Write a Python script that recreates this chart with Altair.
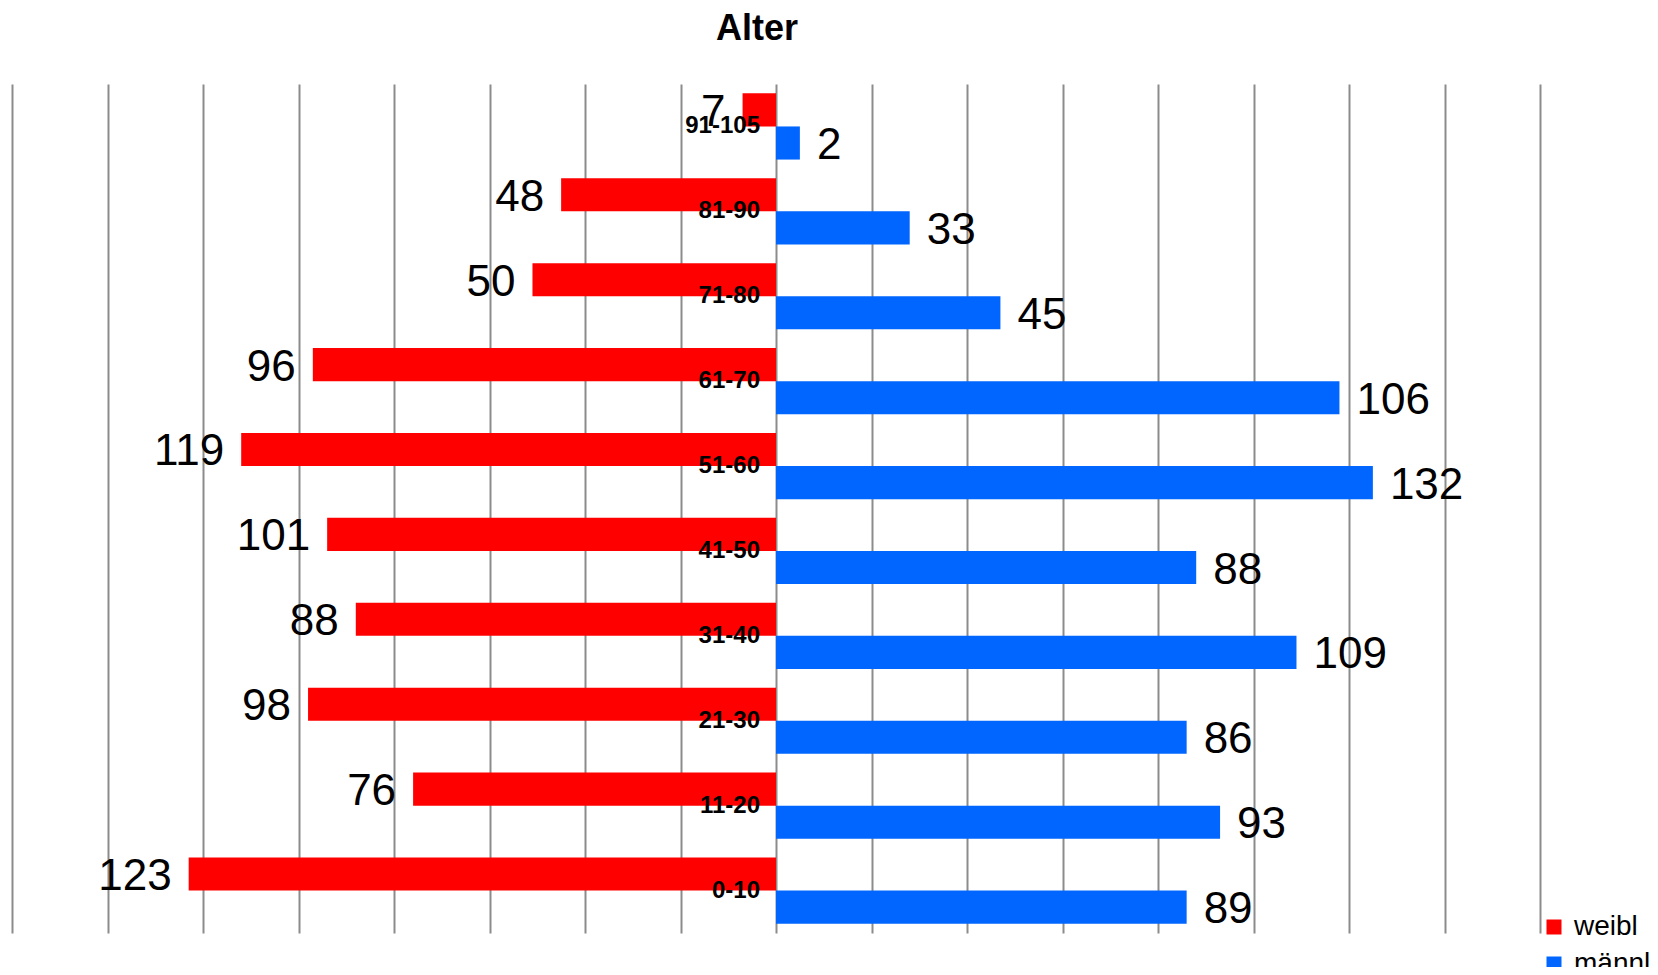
import altair as alt
import pandas as pd

# Age groups, top to bottom
groups = ["91-105", "81-90", "71-80", "61-70", "51-60", "41-50", "31-40", "21-30", "11-20", "0-10"]

# Bar lengths as drawn
weibl_bar = [7, 45, 51, 97, 112, 94, 88, 98, 76, 123]
maennl_bar = [5, 28, 47, 118, 125, 88, 109, 86, 93, 86]

# Data labels as printed
weibl_label = ["7", "48", "50", "96", "119", "101", "88", "98", "76", "123"]
maennl_label = ["2", "33", "45", "106", "132", "88", "109", "86", "93", "89"]

series = ["weibl", "männl"]
colors = ["#FF0000", "#0066FF"]
grid_ticks = list(range(-160, 161, 20))

rows = []
for g, wb, wl in zip(groups, weibl_bar, weibl_label):
    rows.append({"group": g, "sex": "weibl", "value": -wb, "label": wl})
for g, mb, ml in zip(groups, maennl_bar, maennl_label):
    rows.append({"group": g, "sex": "männl", "value": mb, "label": ml})
df = pd.DataFrame(rows)
cats = pd.DataFrame({"group": groups, "value": [0] * len(groups)})

FONT = "Liberation Sans"

x_scale = alt.Scale(domain=[-160, 160], nice=False, zero=False)
y_scale = alt.Scale(domain=groups, paddingInner=0.22, paddingOuter=0.11)
yoff_scale = alt.Scale(domain=series, paddingInner=0, paddingOuter=0)

x_enc = alt.X(
    "value:Q",
    scale=x_scale,
    axis=alt.Axis(
        values=grid_ticks,
        grid=True,
        gridColor="#8c8c8c",
        gridWidth=2,
        labels=False,
        ticks=False,
        domain=False,
        title=None,
    ),
)
x_plain = alt.X("value:Q", scale=x_scale)
y_enc = alt.Y("group:N", scale=y_scale, axis=None)
yoff_enc = alt.YOffset("sex:N", scale=yoff_scale, sort=series)

base = alt.Chart(df)

bars = base.mark_bar(strokeWidth=0).encode(
    x=x_enc,
    y=y_enc,
    yOffset=yoff_enc,
    color=alt.Color(
        "sex:N",
        scale=alt.Scale(domain=series, range=colors),
        sort=series,
        legend=alt.Legend(
            title=None,
            orient="none",
            legendX=1528,
            legendY=829,
            symbolType="square",
            symbolSize=225,
            symbolStrokeWidth=0,
            labelFont=FONT,
            labelFontSize=28,
            labelColor="#000000",
            labelOffset=6,
            labelLimit=200,
            rowPadding=9,
            padding=0,
        ),
    ),
)

lab_w = (
    base.transform_filter(alt.datum.sex == "weibl")
    .mark_text(align="right", baseline="middle", dx=-17, dy=3, font=FONT, fontSize=44, color="#000000")
    .encode(x=x_plain, y=y_enc, yOffset=yoff_enc, text="label:N")
)
lab_m = (
    base.transform_filter(alt.datum.sex == "männl")
    .mark_text(align="left", baseline="middle", dx=17, dy=3, font=FONT, fontSize=44, color="#000000")
    .encode(x=x_plain, y=y_enc, yOffset=yoff_enc, text="label:N")
)

cat_labels = (
    alt.Chart(cats)
    .mark_text(align="right", baseline="middle", dx=-16, font=FONT, fontSize=24, fontWeight="bold", color="#000000")
    .encode(x=x_plain, y=y_enc, text="group:N")
)

chart = (
    alt.layer(bars, lab_w, lab_m, cat_labels)
    .resolve_scale(x="shared", y="shared")
    .properties(
        width=1528,
        height=849,
        view=alt.ViewBackground(strokeOpacity=0, strokeWidth=0),
        title=alt.TitleParams(
            "Alter",
            font=FONT,
            fontSize=36,
            fontWeight="bold",
            color="#000000",
            anchor="middle",
            frame="group",
            offset=36,
            dx=-19,
        ),
        autosize=alt.AutoSizeParams(type="none"),
        padding={"left": 4, "top": 76, "right": 110, "bottom": 34},
    )
    .configure_view(strokeWidth=0, strokeOpacity=0)
    .configure(background="#ffffff")
)

chart.save("out.html", embed_options={"renderer": "svg", "actions": False})
